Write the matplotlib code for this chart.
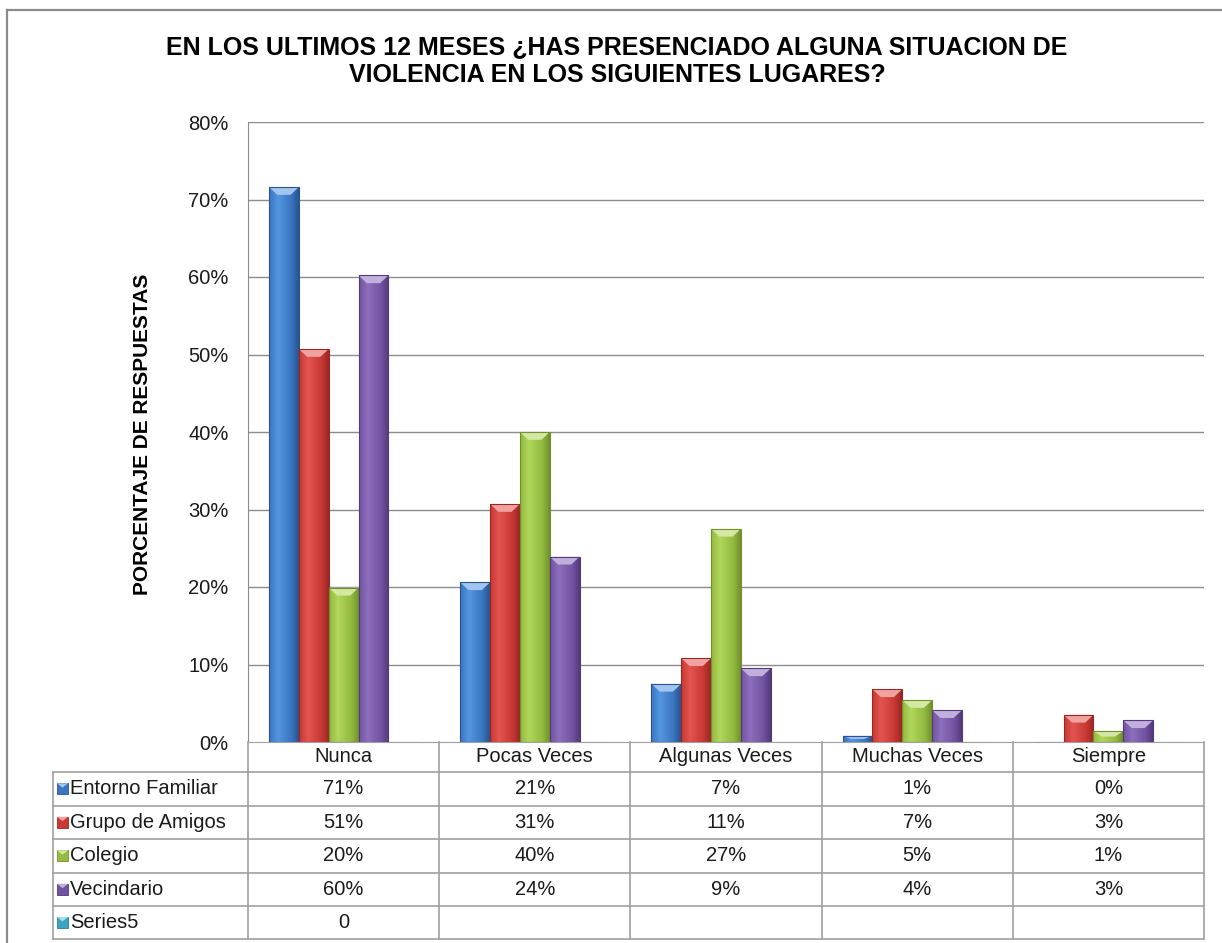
"""
  Violencia presenciada en los ultimos 12 meses: barras agrupadas con tabla de datos.
"""

import numpy as np
import matplotlib.pyplot as plt
import matplotlib.colors as mcolors
from matplotlib.patches import Polygon, Rectangle
from matplotlib.lines import Line2D
from matplotlib.transforms import blended_transform_factory

plt.rcParams['font.family'] = ['Liberation Sans', 'DejaVu Sans']

################################################################################
# Data.                                                                        #
################################################################################

categorias = ['Nunca', 'Pocas Veces', 'Algunas Veces', 'Muchas Veces', 'Siempre']
series     = ['Entorno Familiar', 'Grupo de Amigos', 'Colegio', 'Vecindario', 'Series5']

# Bar heights (%).
entorno    = [71.6, 20.6, 7.5, 0.8, 0.0]
amigos     = [50.7, 30.7, 10.8, 6.8, 3.5]
colegio    = [19.9, 40.0, 27.5, 5.4, 1.4]
vecindario = [60.2, 23.9, 9.5, 4.1, 2.8]
series5    = [0.0, 0.0, 0.0, 0.0, 0.0]

# Values printed in the data table.
tabla_entorno    = ['71%', '21%', '7%', '1%', '0%']
tabla_amigos     = ['51%', '31%', '11%', '7%', '3%']
tabla_colegio    = ['20%', '40%', '27%', '5%', '1%']
tabla_vecindario = ['60%', '24%', '9%', '4%', '3%']
tabla_series5    = ['0', '', '', '', '']

yticks = [0, 10, 20, 30, 40, 50, 60, 70, 80]

valores = [entorno, amigos, colegio, vecindario, series5]
tabla   = [tabla_entorno, tabla_amigos, tabla_colegio, tabla_vecindario, tabla_series5]

# (light, mid, dark) per series
colores = [('#5595e2', '#3a75c0', '#28548f'),
           ('#e25550', '#c93833', '#992824'),
           ('#b0d65a', '#93bb40', '#72912d'),
           ('#8c6fbd', '#7253a2', '#533a7b'),
           ('#5cc3dc', '#3aa5c0', '#2a7f95')]

################################################################################
# Plot.                                                                        #
################################################################################

W, H = 1222, 943
fig = plt.figure(figsize=(W/100, H/100), dpi=100)
fig.patch.set_facecolor('white')

def fx(x): return x/W
def fy(y): return 1 - y/H

y_top, y_zero = 122, 742
ax = fig.add_axes([fx(248), fy(y_zero), fx(1204) - fx(248), fy(y_top) - fy(y_zero)])

x = np.arange(len(categorias))
w = 0.156
grid_c = '#8c8c8c'
line_c = '#a0a0a0'
txt_c = '#1a1a1a'

for yv in yticks[1:]:
    ax.axhline(yv, color=grid_c, lw=1.0, zorder=1)

for i, (vals, (cl, cm, cd)) in enumerate(zip(valores, colores)):
    bars = ax.bar(x + (i - 2)*w, vals, w, facecolor='none', edgecolor=cd, lw=0.8, zorder=3)
    cmap = mcolors.LinearSegmentedColormap.from_list('g', [(0, cm), (0.3, cl), (0.75, cm), (1, cd)])
    grad = np.linspace(0, 1, 64).reshape(1, -1)
    for rect in bars:
        x0, y0 = rect.get_x(), rect.get_y()
        bw, bh = rect.get_width(), rect.get_height()
        if bh <= 0:
            continue
        im = ax.imshow(grad, cmap=cmap, extent=[x0, x0 + bw, y0, y0 + bh],
                       aspect='auto', zorder=2, interpolation='bilinear')
        im.set_clip_path(rect)
        b = min(1.0, bh*0.5)
        top = y0 + bh
        light = tuple(0.55*c + 0.45 for c in mcolors.to_rgb(cl))
        ax.add_patch(Polygon([(x0, top), (x0 + bw, top), (x0 + bw*0.72, top - b), (x0 + bw*0.28, top - b)],
                             closed=True, facecolor=light, edgecolor='none', zorder=2.5))

ax.set_xlim(-0.5, len(categorias) - 0.5)
ax.set_ylim(0, 80)
ax.set_yticks(yticks)
ax.set_yticklabels([f'{v}%' for v in yticks], fontsize=14.5, color=txt_c)
ax.set_xticks([])
ax.tick_params(axis='y', length=0, pad=14)
for s in ['top', 'right']:
    ax.spines[s].set_visible(False)
ax.spines['left'].set_color(grid_c)
ax.spines['bottom'].set_color(line_c)

# Data table under the axis.
tr = blended_transform_factory(ax.transData, fig.transFigure)
fs = 14.5
row_lines = [772, 805.5, 839, 872.5, 906, 939]
for k in range(len(categorias) + 1):
    fig.add_artist(Line2D([k - 0.5, k - 0.5], [fy(y_zero), fy(row_lines[-1])], transform=tr,
                          color=line_c, lw=1.2))
for yl in row_lines:
    fig.add_artist(Line2D([fx(53), fx(1204)], [fy(yl), fy(yl)], transform=fig.transFigure,
                          color=line_c, lw=1.2))
fig.add_artist(Line2D([fx(53), fx(53)], [fy(row_lines[0]), fy(row_lines[-1])],
                      transform=fig.transFigure, color=line_c, lw=1.2))

for k, cat in enumerate(categorias):
    fig.text(x[k], fy(757), cat, transform=tr, ha='center', va='center', fontsize=fs, color=txt_c)

for r, (nombre, fila, (cl, cm, cd)) in enumerate(zip(series, tabla, colores)):
    yc = (row_lines[r] + row_lines[r + 1])/2
    for k, txt in enumerate(fila):
        fig.text(x[k], fy(yc), txt, transform=tr, ha='center', va='center', fontsize=fs, color=txt_c)
    fig.text(fx(70), fy(yc), nombre, ha='left', va='center', fontsize=fs, color=txt_c)
    fig.add_artist(Rectangle((fx(57), fy(yc + 5.5)), fx(11), 11/H, transform=fig.transFigure,
                             facecolor=cm, edgecolor=cd, lw=0.6))
    light = tuple(0.55*c + 0.45 for c in mcolors.to_rgb(cl))
    fig.add_artist(Polygon([(fx(57), fy(yc - 5.5)), (fx(68), fy(yc - 5.5)), (fx(62.5), fy(yc - 1))],
                           closed=True, transform=fig.transFigure, facecolor=light, edgecolor='none'))

# Titles.
fig.text(fx(617), fy(61), 'EN LOS ULTIMOS 12 MESES ¿HAS PRESENCIADO ALGUNA SITUACION DE\n'
         'VIOLENCIA EN LOS SIGUIENTES LUGARES?', ha='center', va='center',
         fontsize=18, fontweight='bold', linespacing=1.22)
fig.text(fx(143), fy(434), 'PORCENTAJE DE RESPUESTAS', rotation=90, ha='center', va='center',
         fontsize=15, fontweight='bold')

# Chart frame (cut at the right and bottom edges).
fig.add_artist(Line2D([fx(7), fx(7)], [fy(10), 0], transform=fig.transFigure, color='#8a8a8a', lw=1.6))
fig.add_artist(Line2D([fx(7), 1], [fy(10), fy(10)], transform=fig.transFigure, color='#8a8a8a', lw=1.6))

fig.savefig('out.png', dpi=100)
plt.close()
